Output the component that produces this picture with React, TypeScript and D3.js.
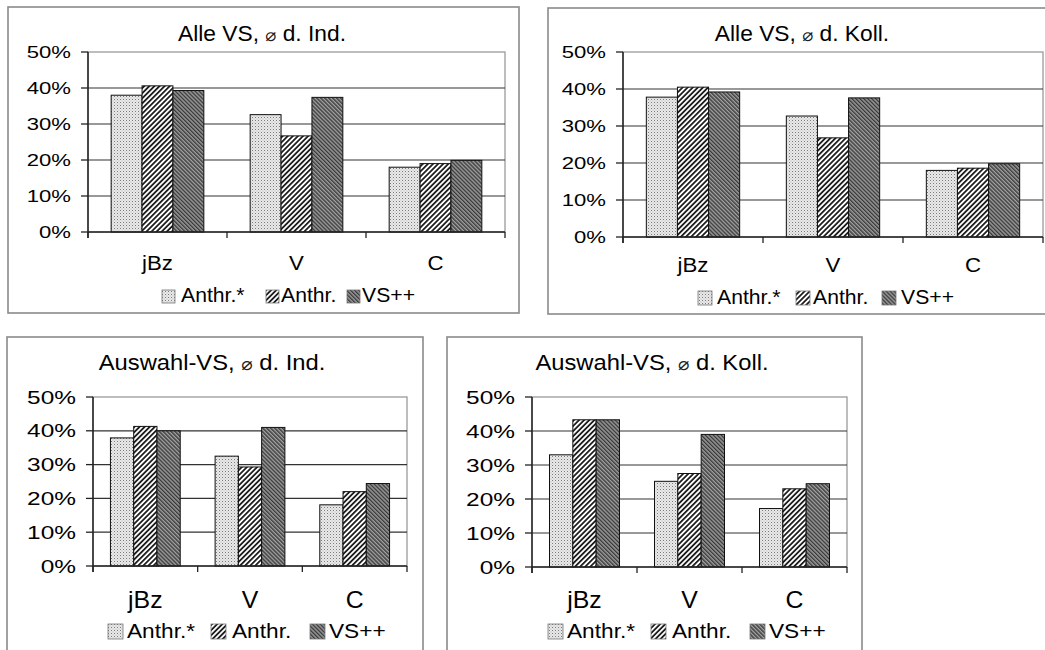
import React from "react";
import * as d3 from "d3";

// ---- data ----
const categories = ["jBz", "V", "C"];
const seriesNames = ["Anthr.*", "Anthr.", "VS++"];
const yTicks = [0, 10, 20, 30, 40, 50];
const yTickLabels = ["0%", "10%", "20%", "30%", "40%", "50%"];
const titles = [
  ["Alle VS, ", "⌀", " d. Ind."],
  ["Alle VS, ", "⌀", " d. Koll."],
  ["Auswahl-VS, ", "⌀", " d. Ind."],
  ["Auswahl-VS, ", "⌀", " d. Koll."],
];
// values per category (rows) for each series (columns) in %
const alleInd = [
  [38.0, 40.6, 39.3],
  [32.6, 26.7, 37.4],
  [18.0, 19.0, 19.9],
];
const alleKoll = [
  [37.8, 40.5, 39.2],
  [32.7, 26.8, 37.6],
  [18.0, 18.6, 19.8],
];
const auswahlInd = [
  [37.9, 41.3, 40.0],
  [32.5, 29.3, 41.0],
  [18.1, 22.0, 24.4],
];
const auswahlKoll = [
  [33.0, 43.3, 43.3],
  [25.2, 27.5, 39.0],
  [17.2, 23.0, 24.5],
];

// ---- layout ----
const layouts = [
  {
    data: alleInd,
    box: [8, 7, 511, 306],
    plot: [88, 505, 52, 232],
    titleX: 262, titleY: 41, catY: 270, legY: 302,
    legX: [162, 181, 266, 281, 347, 362], sw: 13,
    tickFs: 17, tickSx: 1.3, titleFs: 21.5, catFs: 21, legFs: 20, txtSx: 1.06,
  },
  {
    data: alleKoll,
    box: [548, 8, 520, 306],
    plot: [623, 1043, 52, 237],
    titleX: 802, titleY: 41, catY: 272, legY: 304,
    legX: [698, 717, 796, 813, 882, 901], sw: 14,
    tickFs: 17, tickSx: 1.3, titleFs: 21.5, catFs: 21, legFs: 20, txtSx: 1.06,
  },
  {
    data: auswahlInd,
    box: [7, 337, 416, 330],
    plot: [93, 407, 397, 566],
    titleX: 212, titleY: 370, catY: 608, legY: 638,
    legX: [108, 127, 211, 232, 310, 329], sw: 15,
    tickFs: 18.5, tickSx: 1.32, titleFs: 22, catFs: 23, legFs: 21, txtSx: 1.08,
  },
  {
    data: auswahlKoll,
    box: [447, 337, 415, 330],
    plot: [532, 847, 397, 567],
    titleX: 652, titleY: 370, catY: 608, legY: 638,
    legX: [548, 567, 651, 672, 750, 769], sw: 15,
    tickFs: 18.5, tickSx: 1.32, titleFs: 22, catFs: 23, legFs: 21, txtSx: 1.08,
  },
];

const patternIds = ["patDots", "patHatch", "patDark"];
const FONT = "'Liberation Sans', Arial, sans-serif";

function STxt({ x, y, sx, fs, anchor, children }: any) {
  return (
    <text
      transform={`translate(${x},${y}) scale(${sx},1)`}
      fontSize={fs}
      textAnchor={anchor || "start"}
      fontFamily={FONT}
      fill="#000"
    >
      {children}
    </text>
  );
}

function Panel({ cfg, idx }: any) {
  const [bx, by, bw, bh] = cfg.box;
  const [l, r, t, b] = cfg.plot;
  const y = d3.scaleLinear().domain([0, 50]).range([b, t]);
  const x0 = d3.scaleBand<string>().domain(categories).range([l, r]).paddingInner(0).paddingOuter(0);
  const x1 = d3
    .scaleBand<string>()
    .domain(seriesNames)
    .range([0, x0.bandwidth()])
    .paddingInner(0)
    .paddingOuter(0.75);
  const boundaries = [l, ...categories.map((c) => (x0(c) as number) + x0.bandwidth())];
  const title = titles[idx];
  return (
    <g>
      <rect x={bx} y={by} width={bw} height={bh} fill="#fff" stroke="#8a8a8a" strokeWidth={1.6} />
      <text x={cfg.titleX} y={cfg.titleY} textAnchor="middle" fontFamily={FONT} fontSize={cfg.titleFs}
        transform={`translate(${cfg.titleX},0) scale(${cfg.txtSx},1) translate(${-cfg.titleX},0)`}>
        {title[0]}
        <tspan fontSize={cfg.titleFs * 0.8} fontFamily="'DejaVu Sans', sans-serif" fill="#222">{title[1]}</tspan>
        {title[2]}
      </text>
      {/* plot border */}
      <rect x={l} y={t} width={r - l} height={b - t} fill="none" stroke="#9a9a9a" strokeWidth={1.3} />
      {/* gridlines */}
      {yTicks.slice(1, -1).map((v) => (
        <line key={v} x1={l} x2={r} y1={y(v)} y2={y(v)} stroke="#333" strokeWidth={1.2} />
      ))}
      {/* bars */}
      {categories.map((c, ci) =>
        seriesNames.map((s, si) => {
          const bxp = (x0(c) as number) + (x1(s) as number);
          const v = cfg.data[ci][si];
          return (
            <rect
              key={c + s}
              x={bxp}
              y={y(v)}
              width={x1.bandwidth()}
              height={y(0) - y(v)}
              fill={`url(#${patternIds[si]})`}
              stroke="#111"
              strokeWidth={1}
            />
          );
        })
      )}
      {/* y axis */}
      <line x1={l} x2={l} y1={t} y2={b + 6} stroke="#222" strokeWidth={1.5} />
      {yTicks.map((v, i) => (
        <g key={v}>
          <line x1={l - 7} x2={l} y1={y(v)} y2={y(v)} stroke="#222" strokeWidth={1.3} />
          <STxt x={l - 17} y={y(v) + cfg.tickFs * 0.36} sx={cfg.tickSx} fs={cfg.tickFs} anchor="end">
            {yTickLabels[i]}
          </STxt>
        </g>
      ))}
      {/* x axis */}
      <line x1={l} x2={r} y1={b} y2={b} stroke="#222" strokeWidth={1.5} />
      {boundaries.map((bxv, i) => (
        <line key={i} x1={bxv} x2={bxv} y1={b} y2={b + 6} stroke="#222" strokeWidth={1.3} />
      ))}
      {categories.map((c) => (
        <STxt key={c} x={(x0(c) as number) + x0.bandwidth() / 2} y={cfg.catY} sx={cfg.txtSx} fs={cfg.catFs} anchor="middle">
          {c}
        </STxt>
      ))}
      {/* legend */}
      {seriesNames.map((s, si) => (
        <g key={s}>
          <rect
            x={cfg.legX[si * 2]}
            y={cfg.legY - cfg.sw + 1}
            width={cfg.sw}
            height={cfg.sw}
            fill={`url(#${patternIds[si]})`}
            stroke="#777"
            strokeWidth={0.8}
          />
          <STxt x={cfg.legX[si * 2 + 1]} y={cfg.legY} sx={cfg.txtSx} fs={cfg.legFs}>
            {s}
          </STxt>
        </g>
      ))}
    </g>
  );
}

export default function App() {
  return (
    <svg
      width={1045}
      height={650}
      style={{ position: "absolute", left: 0, top: 0, background: "#fff" }}
    >
      <defs>
        <pattern id="patDots" patternUnits="userSpaceOnUse" width={3} height={3}>
          <rect width={3} height={3} fill="#e9e9e9" />
          <rect x={0} y={0} width={1} height={1} fill="#7a7a7a" />
          <rect x={1.5} y={1.5} width={1} height={1} fill="#b8b8b8" />
        </pattern>
        <pattern id="patHatch" patternUnits="userSpaceOnUse" width={3.6} height={3.6} patternTransform="rotate(45)">
          <rect width={3.6} height={3.6} fill="#fff" />
          <line x1={0.9} x2={0.9} y1={0} y2={3.6} stroke="#111" strokeWidth={1.7} />
        </pattern>
        <pattern id="patDark" patternUnits="userSpaceOnUse" width={2.8} height={2.8} patternTransform="rotate(-45)">
          <rect width={2.8} height={2.8} fill="#a0a0a0" />
          <line x1={0.7} x2={0.7} y1={0} y2={2.8} stroke="#333" strokeWidth={1.3} />
        </pattern>
      </defs>
      <rect width={1045} height={650} fill="#fff" />
      {layouts.map((cfg, i) => (
        <Panel key={i} cfg={cfg} idx={i} />
      ))}
    </svg>
  );
}
